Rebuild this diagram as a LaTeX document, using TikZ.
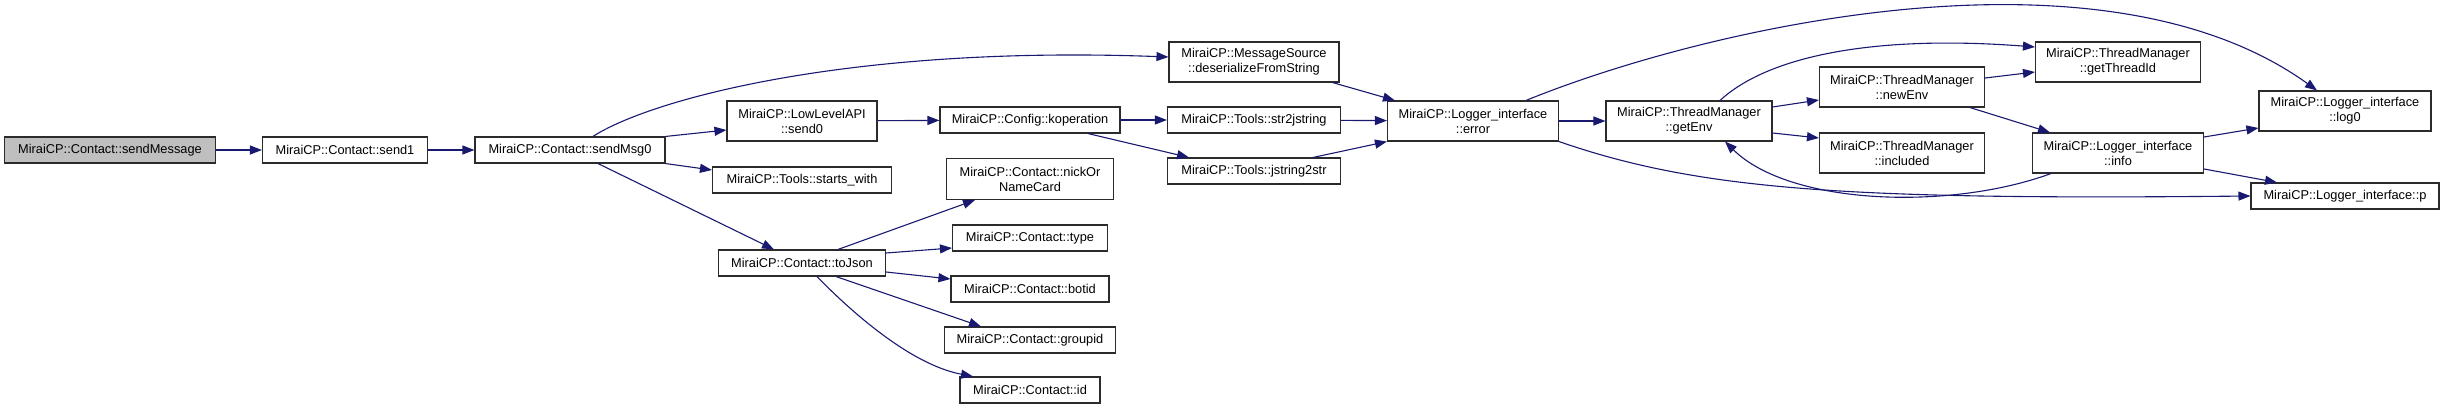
\documentclass[tikz,border=0pt]{standalone}
\usepackage{fontspec}
\setmainfont{Liberation Sans}
\usepackage{xcolor}
\usetikzlibrary{arrows.meta}
\definecolor{EdgeNavy}{HTML}{191970}
\definecolor{RootGray}{HTML}{BFBFBF}
\definecolor{BoxLine}{HTML}{2B2B2B}
\tikzset{
  fnbox/.style={draw=BoxLine, fill=white, line width=1.1pt, align=center, inner sep=0pt, minimum height=26pt},
  fnboxtwo/.style={fnbox, minimum height=40pt},
  rootbox/.style={fnbox, fill=RootGray},
  callarrow/.style={-{Triangle[length=12pt, width=9pt]}, line width=1.1pt, draw=EdgeNavy}
}

\begin{document}
\begin{tikzpicture}[
    x=1pt, y=-1pt,
    every node/.style={
        font=\fontsize{12.8}{15}\selectfont,
        align=center
    }
]
\useasboundingbox (0,0) rectangle (2444,409);

\node[rootbox, minimum width=211pt] (sendMessage) at (110,150)
    {MiraiCP::Contact::sendMessage};
\node[fnbox, minimum width=165pt] (send1) at (345,150)
    {MiraiCP::Contact::send1};
\node[fnbox, minimum width=190pt] (sendMsg0) at (570,150)
    {MiraiCP::Contact::sendMsg0};

\node[fnboxtwo, minimum width=170pt] (msgSource) at (1254,62)
    {MiraiCP::MessageSource\\::deserializeFromString};
\node[fnboxtwo, minimum width=150pt] (lowSend) at (802,121)
    {MiraiCP::LowLevelAPI\\::send0};
\node[fnbox, minimum width=179pt] (startsWith) at (802,180)
    {MiraiCP::Tools::starts\_with};
\node[fnbox, minimum width=167pt] (toJson) at (802,263)
    {MiraiCP::Contact::toJson};

\node[fnbox, minimum width=180pt] (koperation) at (1030,120)
    {MiraiCP::Config::koperation};
\node[fnboxtwo, minimum width=167pt, minimum height=41pt] (nickName) at (1030,179)
    {MiraiCP::Contact::nickOr\\NameCard};
\node[fnbox, minimum width=155pt] (ctype) at (1030,238)
    {MiraiCP::Contact::type};
\node[fnbox, minimum width=158pt] (botid) at (1030,289)
    {MiraiCP::Contact::botid};
\node[fnbox, minimum width=171pt] (groupid) at (1030,340)
    {MiraiCP::Contact::groupid};
\node[fnbox, minimum width=140pt] (cid) at (1030,390)
    {MiraiCP::Contact::id};

\node[fnbox, minimum width=173pt] (str2j) at (1254,120)
    {MiraiCP::Tools::str2jstring};
\node[fnbox, minimum width=173pt] (j2str) at (1254,171)
    {MiraiCP::Tools::jstring2str};

\node[fnboxtwo, minimum width=171pt] (error) at (1473,121)
    {MiraiCP::Logger\_interface\\::error};
\node[fnboxtwo, minimum width=166pt] (getEnv) at (1689,121)
    {MiraiCP::ThreadManager\\::getEnv};
\node[fnboxtwo, minimum width=165pt] (newEnv) at (1902,87)
    {MiraiCP::ThreadManager\\::newEnv};
\node[fnboxtwo, minimum width=165pt] (included) at (1902,153)
    {MiraiCP::ThreadManager\\::included};
\node[fnboxtwo, minimum width=165pt] (threadId) at (2118,62)
    {MiraiCP::ThreadManager\\::getThreadId};
\node[fnboxtwo, minimum width=171pt] (info) at (2118,153)
    {MiraiCP::Logger\_interface\\::info};
\node[fnboxtwo, minimum width=172pt] (log0) at (2345,111)
    {MiraiCP::Logger\_interface\\::log0};
\node[fnbox, minimum width=188pt] (pfn) at (2345,196)
    {MiraiCP::Logger\_interface::p};

% first calls
\draw[callarrow] (sendMessage) -- (send1);
\draw[callarrow] (send1) -- (sendMsg0);

% sendMsg0
\draw[callarrow] ([xshift=23pt]sendMsg0.north) .. controls +(57,-37) and +(-319,-12) .. ([yshift=5pt]msgSource.west);
\draw[callarrow] (sendMsg0.north east) -- ([yshift=-9pt]lowSend.west);
\draw[callarrow] (sendMsg0.south east) -- ([yshift=10pt]startsWith.west);
\draw[callarrow] ([xshift=28pt]sendMsg0.south) -- ([xshift=-28pt]toJson.north);

% send0 / koperation
\draw[callarrow] (lowSend) -- (koperation);
\draw[callarrow] (koperation) -- (str2j);
\draw[callarrow] ([xshift=58pt]koperation.south) -- ([xshift=-65pt]j2str.north);

% into error
\draw[callarrow] ([xshift=-7pt]msgSource.south east) -- ([xshift=8pt]error.north west);
\draw[callarrow] (str2j) -- (error);
\draw[callarrow] ([xshift=-28pt]j2str.north east) -- (error.south west);

% toJson
\draw[callarrow] ([xshift=36pt]toJson.north) -- ([xshift=-55pt]nickName.south);
\draw[callarrow] ([yshift=10pt]toJson.east) -- ([yshift=-10pt]ctype.west);
\draw[callarrow] ([yshift=-9pt]toJson.east) -- ([yshift=10pt]botid.west);
\draw[callarrow] ([xshift=34pt]toJson.south) -- ([xshift=-49pt]groupid.north);
\draw[callarrow] ([xshift=15pt]toJson.south) .. controls +(33,34) and +(-63,-12) .. ([xshift=-57pt]cid.north);

% error
\draw[callarrow] (error) -- (getEnv);
\draw[callarrow] ([xshift=53pt]error.north) .. controls +(174,-71) and +(-217,-156) .. ([xshift=-28pt]log0.north);
\draw[callarrow] (error.south east) .. controls +(141,49) and +(-401,4) .. (pfn.west);

% getEnv
\draw[callarrow] ([xshift=31pt]getEnv.north) .. controls +(50,-46) and +(-156,-12) .. ([yshift=15pt]threadId.west);
\draw[callarrow] ([yshift=14pt]getEnv.east) -- ([yshift=-13pt]newEnv.west);
\draw[callarrow] ([yshift=-12pt]getEnv.east) -- ([yshift=15pt]included.west);

% newEnv
\draw[callarrow] ([yshift=9pt]newEnv.east) -- ([yshift=-10pt]threadId.west);
\draw[callarrow] ([xshift=68pt]newEnv.south) -- ([xshift=-68pt]info.north);

% info
\draw[callarrow] ([xshift=-67pt]info.south) .. controls +(-101,37) and +(65,64) .. ([xshift=36pt]getEnv.south);
\draw[callarrow] ([yshift=16pt]info.east) -- ([yshift=-17pt]log0.west);
\draw[callarrow] ([yshift=-16pt]info.east) -- ([xshift=-68pt]pfn.north);
\end{tikzpicture}
\end{document}
